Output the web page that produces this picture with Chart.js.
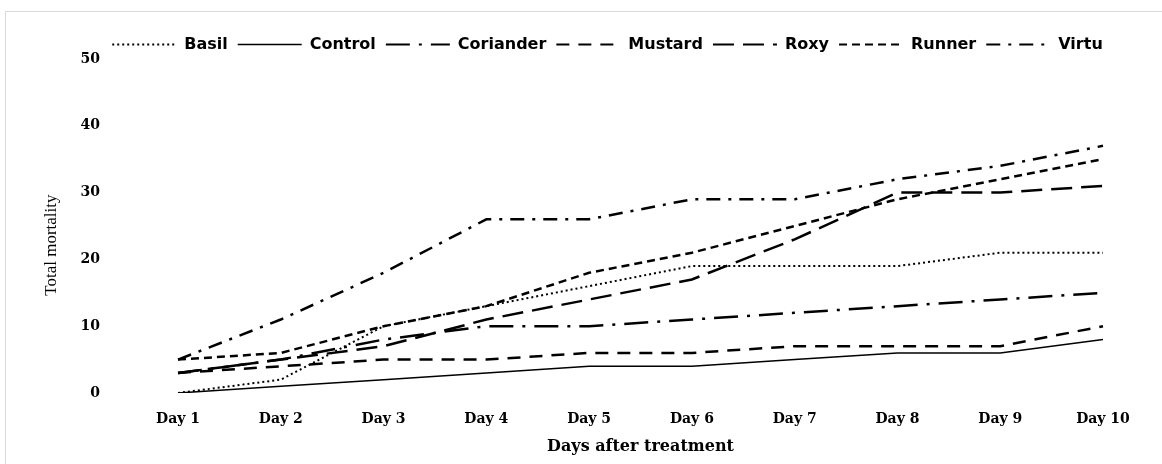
<!DOCTYPE html>
<html><head><meta charset="utf-8">
<script src="https://cdn.jsdelivr.net/npm/chart.js@4"></script>
<style>
html,body{margin:0;padding:0;background:#fff;width:1162px;height:464px;overflow:hidden}
#frame{position:absolute;left:5px;top:11px;width:1170px;height:470px;border:1px solid #d9d9d9;box-sizing:border-box}
#wrap{position:absolute;left:0;top:0;width:1162px;height:464px}
</style></head><body>
<div id="frame"></div>
<div id="wrap"><canvas id="c" width="1162" height="464"></canvas></div>
<script>
const categories = ['Day 1','Day 2','Day 3','Day 4','Day 5','Day 6','Day 7','Day 8','Day 9','Day 10'];
const seriesNames = ['Basil','Control','Coriander','Mustard','Roxy','Runner','Virtu'];
const basil     = [0, 2, 10, 13, 16, 19, 19, 19, 21, 21];
const control   = [0, 1, 2, 3, 4, 4, 5, 6, 6, 8];
const coriander = [3, 5, 8, 10, 10, 11, 12, 13, 14, 15];
const mustard   = [3, 4, 5, 5, 6, 6, 7, 7, 7, 10];
const roxy      = [3, 5, 7, 11, 14, 17, 23, 30, 30, 31];
const runner    = [5, 6, 10, 13, 18, 21, 25, 29, 32, 35];
const virtu     = [5, 11, 18, 26, 26, 29, 29, 32, 34, 37];
const yTicks = [0, 10, 20, 30, 40, 50];

const styles = [
  {w:2,   dash:[2,3]},
  {w:1.5, dash:[]},
  {w:2.5, dash:[24,9,3,9]},
  {w:2.5, dash:[13,9]},
  {w:2.5, dash:[21,9]},
  {w:2.5, dash:[8,5]},
  {w:2.5, dash:[14,8,3,8]}
];
const values = [basil, control, coriander, mustard, roxy, runner, virtu];

const datasets = seriesNames.map((n,i)=>({
  label:n, data:values[i], borderColor:'#000', backgroundColor:'#000',
  borderWidth:styles[i].w, borderDash:styles[i].dash, borderCapStyle:'butt',
  pointRadius:0, pointHoverRadius:0, fill:false, tension:0
}));

const legendShift = { id:'legendShift', afterLayout(chart){
  const l = chart.legend; if(l){ const h = l.bottom - l.top; l.left = 65; l.right = 1150; l.top += 3.5; l.bottom = l.top + h; } } };

Chart.defaults.color = '#000';
new Chart(document.getElementById('c'), {
  type:'line',
  data:{labels:categories, datasets},
  plugins:[legendShift],
  options:{
    responsive:false, animation:false, devicePixelRatio:1,
    layout:{padding:{left:0, right:59, top:23, bottom:0}},
    plugins:{
      tooltip:{enabled:false},
      legend:{
        position:'top', align:'center',
        labels:{
          usePointStyle:true, pointStyle:'line', pointStyleWidth:64, boxHeight:16,
          padding:10, color:'#000',
          font:{family:'DejaVu Sans', weight:'bold', size:16},
          generateLabels(ch){
            return ch.data.datasets.map((d,i)=>({
              text:d.label, fillStyle:'#000', strokeStyle:'#000', fontColor:'#000',
              lineWidth:Math.min(d.borderWidth,2), lineDash:d.borderDash, lineCap:'butt',
              pointStyle:'line', hidden:false, datasetIndex:i
            }));
          }
        }
      }
    },
    scales:{
      x:{
        offset:false,
        grid:{display:false}, border:{display:false},
        ticks:{padding:10, font:{family:'DejaVu Serif', weight:'bold', size:14}, color:'#000', maxRotation:0},
        title:{display:true, text:'Days after treatment', color:'#000', padding:{top:0,bottom:8},
          font:{family:'DejaVu Serif', weight:'bold', size:16}},
        afterFit(s){ s.height = 71; }
      },
      y:{
        min:0, max:50,
        afterBuildTicks(s){ s.ticks = yTicks.map(v=>({value:v})); },
        grid:{display:false}, border:{display:false},
        ticks:{padding:70, font:{family:'DejaVu Serif', weight:'bold', size:14}, color:'#000'},
        title:{display:true, text:'Total mortality         ', color:'#000', padding:{top:41,bottom:0},
          font:{family:'Liberation Serif', size:17}},
        afterFit(s){ s.width = 178; s.paddingTop = 0; s.paddingBottom = 0; }
      }
    }
  }
});
</script>
</body></html>
